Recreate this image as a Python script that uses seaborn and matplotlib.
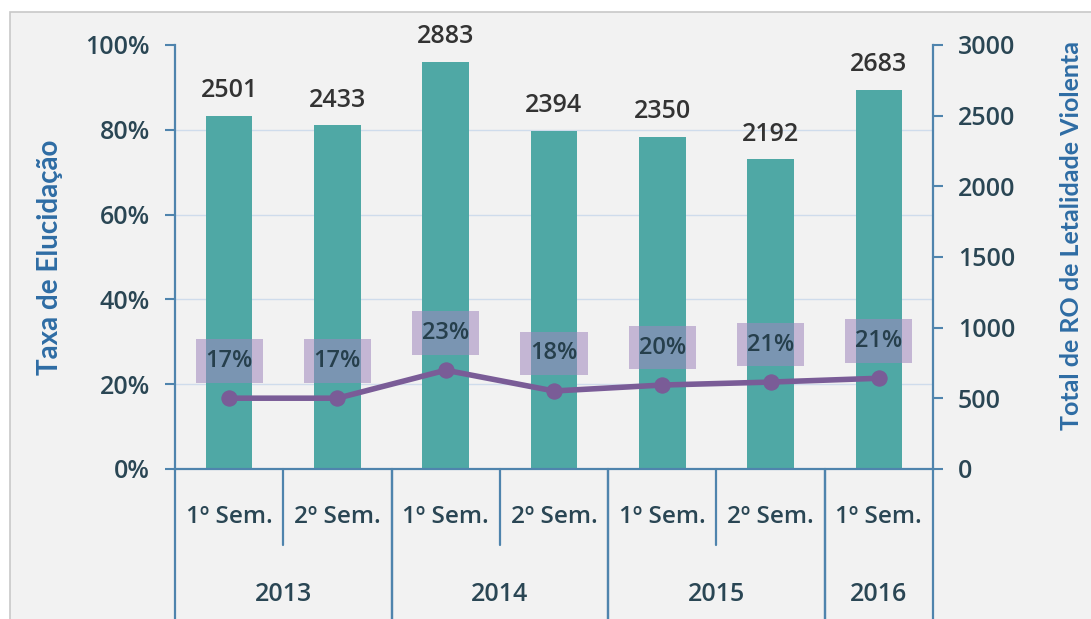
import numpy as np
import pandas as pd
import seaborn as sns
import matplotlib.pyplot as plt
from matplotlib.patches import Rectangle
from matplotlib.ticker import MultipleLocator, PercentFormatter
import matplotlib.transforms as mtransforms

semestres = ["1º Sem.", "2º Sem.", "1º Sem.", "2º Sem.", "1º Sem.", "2º Sem.", "1º Sem."]
anos = ["2013", "2013", "2014", "2014", "2015", "2015", "2016"]
total_ro = [2501, 2433, 2883, 2394, 2350, 2192, 2683]
taxa = [0.167, 0.167, 0.233, 0.184, 0.198, 0.205, 0.214]
taxa_rotulos = ["17%", "17%", "23%", "18%", "20%", "21%", "21%"]

df = pd.DataFrame({"pos": np.arange(len(total_ro)), "total": total_ro, "taxa": taxa})

sns.set_theme(style="white")
plt.rcParams["font.family"] = ["Open Sans", "DejaVu Sans"]
plt.rcParams["font.weight"] = "semibold"

azul = "#4f84ad"
texto = "#2a4654"
teal = "#4fa8a5"
roxo = "#7a5c97"
titulo = "#2e6ca4"

fig = plt.figure(figsize=(10.91, 6.19), dpi=100)
fig.patch.set_facecolor("white")
fig.patches.append(Rectangle((10 / 1091, -0.1), 1.2, 1.1 - 12 / 619, transform=fig.transFigure,
                             facecolor="#f2f2f2", edgecolor="#c8c8c8", lw=1.2, zorder=-5))

ax = fig.add_axes([175 / 1091, 1 - 469 / 619, (933 - 175) / 1091, (469 - 45) / 619])
ax2 = ax.twinx()
ax.set_zorder(ax2.get_zorder() + 1)
ax.patch.set_visible(False)
ax2.patch.set_visible(False)

# barras (eixo direito)
sns.barplot(data=df, x="pos", y="total", color=teal, width=0.43, saturation=1, linewidth=0, ax=ax2)
ax2.bar_label(ax2.containers[0], padding=9, fontsize=18, color="#333333")
ax2.set_ylim(0, 3000)
ax2.yaxis.set_major_locator(MultipleLocator(500))
ax2.yaxis.set_minor_locator(MultipleLocator(600))
ax2.grid(which="minor", axis="y", color="#cfdcec", lw=1)
ax2.set_axisbelow(True)
ax2.set_xlabel("")
ax2.set_ylabel("Total de RO de Letalidade Violenta", fontsize=18, fontweight="bold",
               color=titulo, family=["Lato", "DejaVu Sans"])
ax2.yaxis.set_label_coords(1.168, 0.55)

# linha (eixo esquerdo)
sns.lineplot(data=df, x="pos", y="taxa", color=roxo, lw=4, marker="o", markersize=11,
             markeredgecolor=roxo, ax=ax)
for x, y, r in zip(df["pos"], df["taxa"], taxa_rotulos):
    ax.annotate(r, (x, y), xytext=(0, 27), textcoords="offset points", ha="center", va="center",
                fontsize=17, color="#263f4c",
                bbox=dict(boxstyle="square,pad=0.42", facecolor="#9f86bd", edgecolor="none", alpha=0.55))
ax.set_ylim(0, 1)
ax.set_xlim(-0.5, len(total_ro) - 0.5)
ax.yaxis.set_major_locator(MultipleLocator(0.2))
ax.yaxis.set_major_formatter(PercentFormatter(1, decimals=0))
ax.set_xlabel("")
ax.set_ylabel("Taxa de Elucidação", fontsize=20, fontweight="bold", color=titulo, labelpad=16,
              family=["Lato", "DejaVu Sans"])

for a in (ax, ax2):
    for s in a.spines.values():
        s.set_visible(False)
    a.set_xticks([])
    a.tick_params(axis="y", which="major", length=7, width=1.5, color=azul, labelcolor=texto,
                  labelsize=18, pad=11)
    a.tick_params(axis="y", which="minor", length=0)
ax.tick_params(axis="y", left=True, right=False)
ax2.tick_params(axis="y", right=True, left=False)
ax.spines["left"].set_visible(True)
ax.spines["bottom"].set_visible(True)
ax2.spines["right"].set_visible(True)
for s in (ax.spines["left"], ax.spines["bottom"], ax2.spines["right"]):
    s.set_color(azul)
    s.set_linewidth(1.6)

# eixo categórico em dois níveis
trans = mtransforms.blended_transform_factory(ax.transData, ax.transAxes)
fundo = -(619 - 469) / 424
for i, (sem, ano) in enumerate(zip(semestres, anos)):
    ax.text(i, -0.113, sem, transform=trans, ha="center", va="center", fontsize=17.5, color=texto)
grupos = pd.Series(df["pos"].values, index=anos).groupby(level=0)
for ano, idx in grupos:
    ax.text(idx.mean(), -0.297, ano, transform=trans, ha="center", va="center", fontsize=18, color=texto)
    for b in (idx.min() - 0.5, idx.max() + 0.5):
        ax.plot([b, b], [0, fundo], transform=trans, color=azul, lw=1.6, clip_on=False)
    for b in np.arange(idx.min() + 0.5, idx.max()):
        ax.plot([b, b], [0, -0.179], transform=trans, color=azul, lw=1.6, clip_on=False)

fig.savefig("out.png", dpi=100)
